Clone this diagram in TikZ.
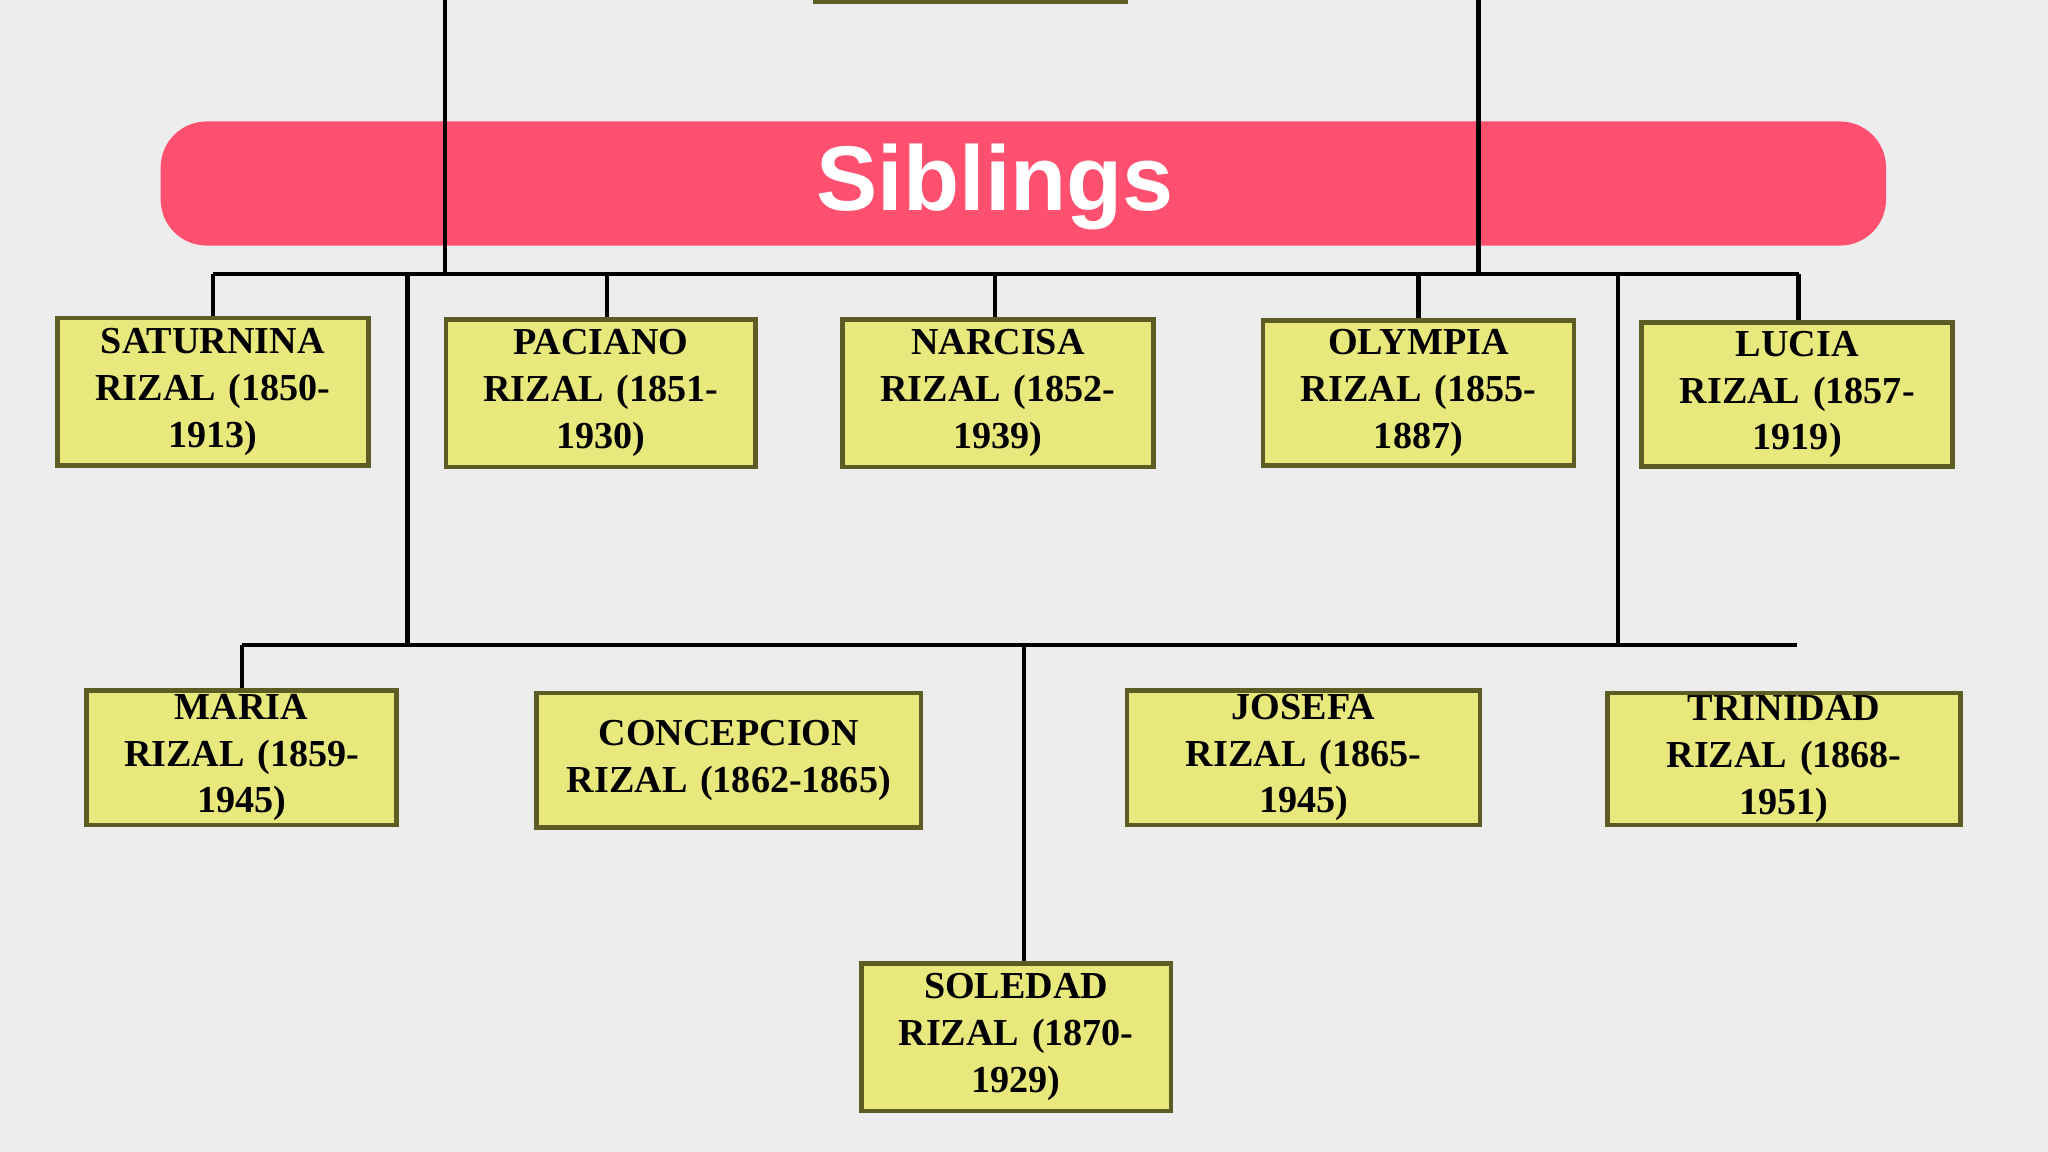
\documentclass[tikz,border=0pt]{standalone}
\usepackage{fontspec}
\setmainfont{Liberation Serif}
\newfontfamily\bannerfont{Liberation Sans}
\definecolor{bg}{HTML}{EEEDEE}
\definecolor{boxfill}{HTML}{E8E87C}
\definecolor{boxline}{HTML}{5C5C24}
\definecolor{banner}{HTML}{FF5070}
\begin{document}
\begin{tikzpicture}[x=0.01cm,y=-0.01cm,
  person/.style={draw=boxline,line width=1pt,fill=boxfill,align=center,inner sep=0pt,
    font=\fontsize{8.3}{10.2}\selectfont\bfseries},
  conn/.style={line width=0.9pt,black}]
\useasboundingbox (0,0) rectangle (1568,882);
\fill[bg] (0,0) rectangle (1568,882);
\begin{scope}
\clip (0,0) rectangle (1568,882);
\draw[person] (624,-40) rectangle (862,1);
\end{scope}
\fill[banner,rounded corners=10] (123,93) rectangle (1444,188);
\node[text=white,font=\bannerfont\fontsize{20}{24}\selectfont\bfseries] (ban) at (762,143) {Siblings};
\coordinate (t1) at (341,0); \coordinate (t2) at (1132,0);
\coordinate (h1) at (341,210); \coordinate (h2) at (1132,210);
\draw[conn] (t1)--(h1); \draw[conn] (t2)--(h2);
\coordinate (hl) at (163,210); \coordinate (hr) at (1377,210);
\draw[conn] (hl)--(hr);
\node[person,minimum width=238\pgflinewidth,text width=2.2cm,minimum width=2.38cm,minimum height=1.13cm] (sat) at (163,300) {SATURNINA\\RIZAL (1850-\\1913)};
\node[person,text width=2.2cm,minimum width=2.37cm,minimum height=1.13cm] (pac) at (460,301) {PACIANO\\RIZAL (1851-\\1930)};
\node[person,text width=2.2cm,minimum width=2.38cm,minimum height=1.13cm] (nar) at (764,301) {NARCISA\\RIZAL (1852-\\1939)};
\node[person,text width=2.2cm,minimum width=2.38cm,minimum height=1.11cm] (oly) at (1086,301) {OLYMPIA\\RIZAL (1855-\\1887)};
\node[person,text width=2.2cm,minimum width=2.38cm,minimum height=1.10cm] (luc) at (1376,302) {LUCIA\\RIZAL (1857-\\1919)};
\foreach \n/\x in {sat/163,pac/465,nar/762,oly/1086,luc/1377}
  \draw[conn] (\x,210) -- (\x,0 |- \n.north);
\coordinate (v1) at (312,210); \coordinate (v1b) at (312,494);
\coordinate (v2) at (1239,210); \coordinate (v2b) at (1239,494);
\draw[conn] (v1)--(v1b); \draw[conn] (v2)--(v2b);
\coordinate (gl) at (185,494); \coordinate (gr) at (1376,494);
\draw[conn] (gl)--(gr);
\node[person,text width=2.2cm,minimum width=2.37cm,minimum height=1.03cm] (mar) at (185,580) {MARIA\\RIZAL (1859-\\1945)};
\node[person,text width=2.8cm,minimum width=2.94cm,minimum height=1.03cm] (con) at (558,582) {CONCEPCION\\RIZAL (1862-1865)};
\node[person,text width=2.5cm,minimum width=2.70cm,minimum height=1.03cm] (jos) at (998,580) {JOSEFA\\RIZAL (1865-\\1945)};
\node[person,text width=2.5cm,minimum width=2.70cm,minimum height=1.01cm] (tri) at (1366,581) {TRINIDAD\\RIZAL (1868-\\1951)};
\node[person,text width=2.2cm,minimum width=2.37cm,minimum height=1.13cm] (sol) at (778,794) {SOLEDAD\\RIZAL (1870-\\1929)};
\draw[conn] (gl) -- (mar.north -| gl);
\draw[conn] (784,494) -- (784,0 |- sol.north);
\end{tikzpicture}
\end{document}
